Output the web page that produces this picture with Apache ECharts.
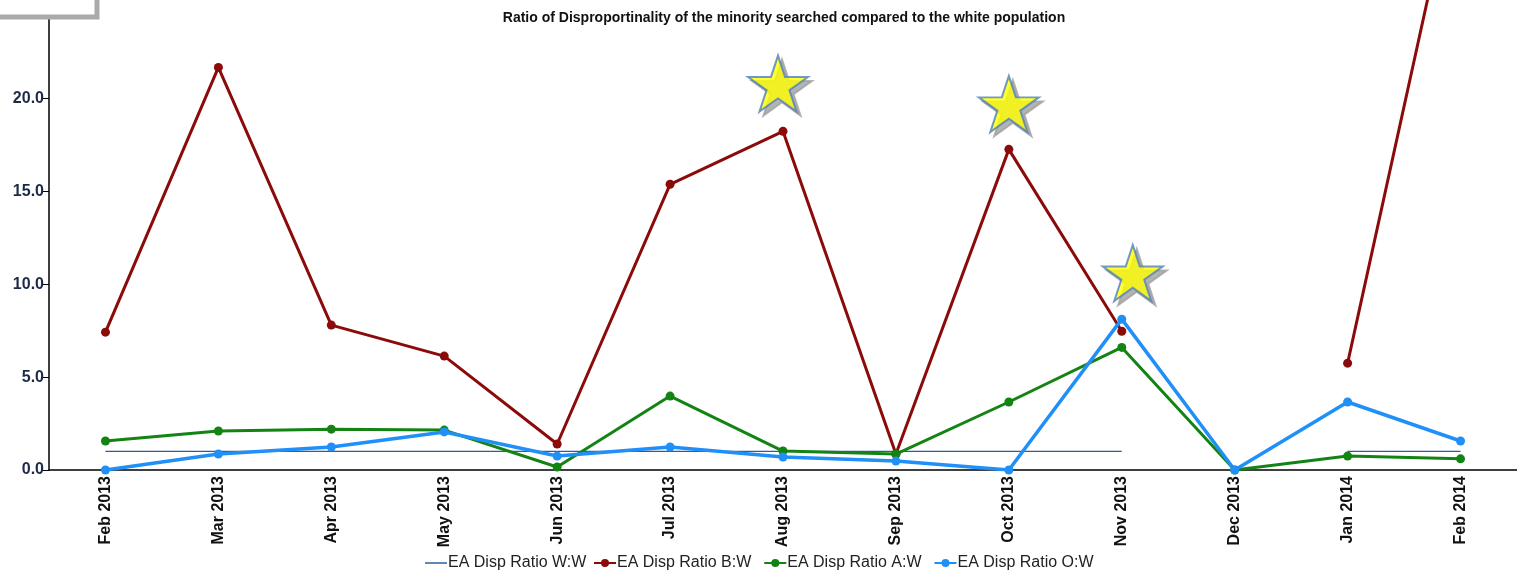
<!DOCTYPE html>
<html>
<head>
<meta charset="utf-8">
<script src="https://cdn.jsdelivr.net/npm/echarts@6/dist/echarts.min.js"></script>
<style>
html, body { margin: 0; padding: 0; background: #fff; }
#main { width: 1517px; height: 571px; }
</style>
</head>
<body>
<div id="main"></div>
<script>
// 月份
var months = ['Feb 2013', 'Mar 2013', 'Apr 2013', 'May 2013', 'Jun 2013', 'Jul 2013', 'Aug 2013',
    'Sep 2013', 'Oct 2013', 'Nov 2013', 'Dec 2013', 'Jan 2014', 'Feb 2014'];
// 各组比率
var ratioWW = [1, 1, 1, 1, 1, 1, 1, 1, 1, 1, null, 1, 1];
var ratioBW = [7.42, 21.67, 7.8, 6.13, 1.4, 15.38, 18.23, 0.86, 17.26, 7.47, null, 5.75, 33.4];
var ratioAW = [1.56, 2.1, 2.2, 2.15, 0.16, 3.98, 1.02, 0.86, 3.66, 6.6, 0, 0.75, 0.6];
var ratioOW = [0, 0.86, 1.24, 2.05, 0.75, 1.24, 0.7, 0.48, 0, 8.12, 0, 3.66, 1.56];
// 星标
var stars = [['Aug 2013', 20.8], ['Oct 2013', 19.7], ['Nov 2013', 10.6]];
var starOffsets = [[-5, 0], [0, 0], [11, 0]];

var starPath = 'path://M50,0 L61.2,34.5 L97.6,34.5 L68.2,55.9 L79.4,90.5 L50,69.1 L20.6,90.5 L31.8,55.9 L2.4,34.5 L38.8,34.5 Z';

var chart = echarts.init(document.getElementById('main'));

function lineSeries(name, data, color, width, marker) {
    return {
        name: name,
        type: 'line',
        data: data,
        symbol: marker ? 'circle' : 'none',
        symbolSize: 9,
        showSymbol: marker,
        connectNulls: false,
        clip: true,
        lineStyle: { color: color, width: width },
        itemStyle: { color: color },
        emphasis: { disabled: true },
        animation: false
    };
}

function starSeries(color, border, shift, z) {
    return {
        name: 'stars',
        type: 'scatter',
        data: stars.map(function (s, i) {
            return { value: s, symbolOffset: [starOffsets[i][0] + shift, starOffsets[i][1] + shift] };
        }),
        symbol: starPath,
        symbolSize: [60, 56],
        itemStyle: {
            color: color,
            borderColor: border,
            borderWidth: 2
        },
        emphasis: { disabled: true },
        z: z
    };
}

var legendText = {
    fontFamily: 'Liberation Sans, Arial',
    fontSize: 16,
    color: '#222',
    padding: [0, 0, 0, -4]
};

var option = {
    animation: false,
    title: {
        text: 'Ratio of Disproportinality of the minority searched compared to the white population',
        left: 779,
        textAlign: 'center',
        top: 6,
        textStyle: {
            fontFamily: 'Liberation Sans, Arial',
            fontSize: 14,
            fontWeight: 'bold',
            color: '#111'
        }
    },
    legend: [{
        // 白人基准线，只画细线
        bottom: 0,
        left: 425,
        padding: 0,
        itemWidth: 22,
        itemHeight: 1.5,
        icon: 'rect',
        textStyle: legendText,
        data: ['EA Disp Ratio W:W']
    }, {
        bottom: 0,
        left: 593,
        padding: 0,
        itemGap: 12,
        itemWidth: 22,
        itemHeight: 10,
        textStyle: legendText,
        data: ['EA Disp Ratio B:W', 'EA Disp Ratio A:W', 'EA Disp Ratio O:W']
    }],
    grid: {
        left: 49,
        right: 0,
        top: 0,
        bottom: 101
    },
    xAxis: {
        type: 'category',
        data: months,
        boundaryGap: true,
        axisLine: { lineStyle: { color: '#000', width: 1.5 } },
        axisTick: { show: false },
        axisLabel: {
            rotate: 90,
            interval: 0,
            margin: 6,
            fontFamily: 'Liberation Sans, Arial',
            fontSize: 16,
            fontWeight: 'bold',
            color: '#111'
        },
        splitLine: { show: false }
    },
    yAxis: {
        type: 'value',
        min: 0,
        max: 25.3,
        interval: 5,
        axisLine: { show: true, lineStyle: { color: '#000', width: 1.5 } },
        axisTick: { show: true, length: 6, lineStyle: { color: '#000' } },
        axisLabel: {
            margin: 5,
            fontFamily: 'Liberation Sans, Arial',
            fontSize: 16,
            fontWeight: 'bold',
            color: '#1c2a48',
            formatter: function (v) { return v > 20 ? '' : v.toFixed(1); }
        },
        splitLine: { show: false }
    },
    series: [
        lineSeries('EA Disp Ratio W:W', ratioWW, '#2c5c9e', 1.3, false),
        lineSeries('EA Disp Ratio B:W', ratioBW, '#8b0a0a', 3, true),
        lineSeries('EA Disp Ratio A:W', ratioAW, '#138413', 3, true),
        lineSeries('EA Disp Ratio O:W', ratioOW, '#2090f8', 3.5, true),
        starSeries('#a0a0a0', '#a0a0a0', 4, 5),
        starSeries('#ffff00', '#4f81bd', 0, 6)
    ],
    graphic: [{
        type: 'rect',
        z: 100,
        shape: { x: -10, y: -10, width: 107, height: 27 },
        style: { fill: '#fff', stroke: '#aaaaaa', lineWidth: 5 }
    }]
};
chart.setOption(option);
</script>
</body>
</html>
